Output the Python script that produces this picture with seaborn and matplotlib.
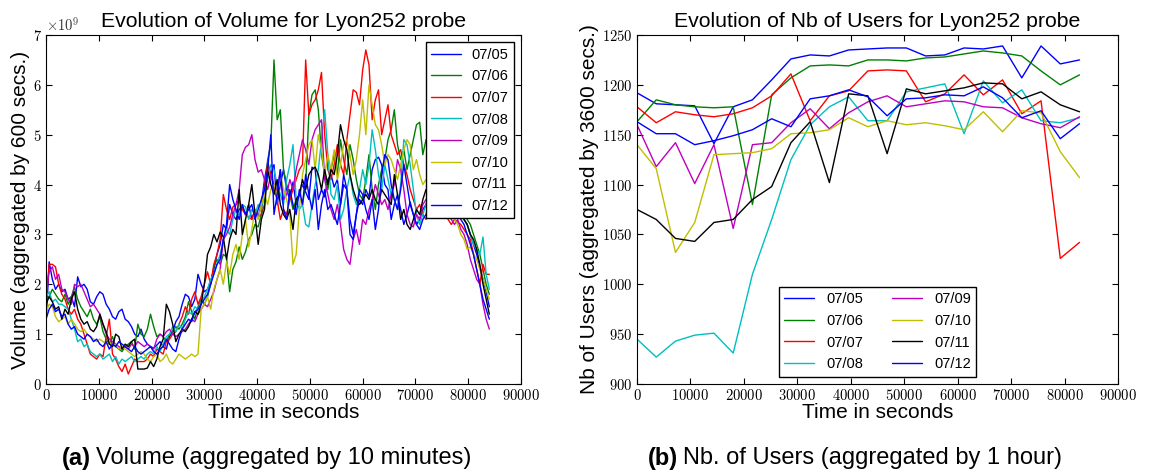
import numpy as np
import pandas as pd
import matplotlib
matplotlib.use("Agg")
import matplotlib.pyplot as plt
import seaborn as sns
from matplotlib.ticker import FuncFormatter

# ---------------- data ----------------
DAYS = ["07/05", "07/06", "07/07", "07/08", "07/09", "07/10", "07/11", "07/12"]
COLORS = ["#0000ff", "#008000", "#ff0000", "#00bfbf", "#bf00bf", "#bfbf00", "#000000", "#0000ff"]

VOLUME_STEP = 600    # seconds between volume samples
USERS_STEP = 3600    # seconds between user samples

# Volume, in units of 1e9, one value every 600 s (0 .. 84000 s)
vol_0705 = [1.2, 2.45, 2.1, 1.9, 2.0, 1.85, 1.9, 1.7, 1.75, 1.55,
            2.15, 1.95, 2.0, 1.9, 1.65, 1.6, 1.75, 1.85, 1.8, 1.6,
            1.5, 1.35, 1.3, 1.45, 1.5, 1.3, 1.25, 1.15, 1.0, 0.95,
            1.1, 0.9, 0.8, 0.75, 0.72, 0.78, 0.85, 0.75, 0.7, 0.95,
            1.05, 1.25, 1.35, 1.6, 1.8, 1.75, 1.55, 1.7, 2.2, 2.0,
            1.85, 1.9, 2.05, 2.3, 2.6, 2.8, 3.2, 3.1, 3.6, 3.4,
            3.3, 3.5, 3.55, 3.4, 3.6, 3.3, 3.5, 3.35, 3.6, 4.1,
            4.45, 4.2, 4.4, 3.6, 4.0, 4.3, 3.9, 3.7, 4.05, 3.6,
            3.8, 4.0, 3.85, 3.7, 4.35, 4.3, 3.7, 3.9, 3.75, 4.1,
            4.2, 3.95, 4.1, 3.6, 4.0, 3.9, 3.3, 3.0, 3.4, 3.7,
            3.6, 3.9, 3.75, 4.3, 4.5, 4.55, 4.4, 4.0, 3.9, 3.3,
            3.6, 3.8, 3.5, 3.2, 3.4, 3.65, 3.4, 3.2, 3.3, 3.5,
            3.6, 3.8, 3.9, 3.7, 3.6, 3.5, 3.8, 3.7, 3.9, 3.6,
            3.5, 3.45, 3.3, 3.2, 3.0, 2.8, 2.6, 2.35, 2.1, 1.85,
            1.55]
vol_0706 = [1.7, 1.75, 1.9, 1.8, 1.7, 1.65, 1.8, 1.6, 1.75, 1.95,
            1.7, 1.55, 1.45, 1.35, 1.5, 1.3, 1.2, 1.35, 1.05, 0.9,
            0.8, 0.95, 0.75, 0.7, 0.65, 0.75, 0.8, 0.85, 0.7, 1.2,
            1.0, 0.95, 1.1, 1.4, 1.15, 0.95, 1.0, 0.95, 0.85, 1.0,
            1.05, 1.15, 1.1, 1.2, 1.35, 1.65, 1.45, 1.3, 1.55, 1.7,
            1.6, 1.75, 2.0, 2.35, 2.5, 2.4, 2.6, 2.55, 1.85, 2.3,
            2.45, 2.75, 2.5, 2.65, 2.9, 3.0, 3.2, 3.15, 3.4, 3.6,
            4.5, 4.8, 6.5, 5.3, 5.5, 4.3, 4.0, 3.8, 3.5, 3.7,
            3.8, 3.6, 4.0, 5.4, 5.8, 5.9, 5.5, 4.6, 4.2, 3.9,
            4.3, 4.6, 4.2, 4.9, 4.5, 4.2, 4.8, 4.5, 4.1, 3.8,
            3.7, 4.1, 4.6, 3.9, 3.5, 4.0, 4.3, 4.5, 4.9, 5.1,
            5.5, 4.8, 4.5, 4.7, 4.3, 4.6, 4.9, 5.2, 5.25, 4.6,
            4.9, 4.7, 4.4, 4.2, 4.5, 4.3, 4.1, 4.0, 3.8, 3.7,
            3.6, 3.5, 3.4, 3.3, 3.2, 3.0, 2.8, 2.6, 2.3, 2.0,
            1.8]
vol_0707 = [1.6, 2.4, 2.4, 2.35, 2.0, 1.8, 1.7, 1.5, 1.4, 1.5,
            1.3, 1.2, 1.0, 0.8, 0.6, 0.55, 0.5, 0.6, 0.55, 0.95,
            1.3, 0.6, 0.5, 0.35, 0.25, 0.4, 0.2, 0.35, 0.5, 0.45,
            0.45, 0.45, 0.5, 0.6, 0.55, 0.7, 0.65, 0.6, 0.85, 0.9,
            1.0, 1.05, 1.2, 1.35, 1.55, 1.4, 1.7, 1.85, 1.6, 1.75,
            2.0, 2.25, 2.0, 2.4, 2.6, 2.9, 3.8, 3.5, 3.3, 3.55,
            3.6, 3.7, 3.5, 3.4, 3.35, 3.3, 3.5, 3.35, 3.4, 4.0,
            4.4, 4.2, 3.9, 3.7, 3.3, 3.5, 3.4, 3.7, 3.9, 4.1,
            4.3, 4.4, 6.5, 5.4, 5.6, 5.7, 5.9, 6.25, 5.0, 4.3,
            4.1, 4.4, 4.8, 4.4, 4.2, 4.9, 5.4, 5.9, 5.85, 5.6,
            6.3, 6.7, 6.4, 5.3, 5.7, 5.9, 5.0, 5.3, 5.6, 5.0,
            4.8, 4.6, 4.7, 4.4, 4.2, 3.9, 3.7, 3.5, 3.6, 3.4,
            3.3, 3.4, 3.5, 3.4, 3.6, 3.5, 3.4, 3.3, 3.2, 3.3,
            3.25, 3.2, 3.1, 3.0, 2.9, 2.6, 2.3, 2.0, 2.4, 2.2,
            2.2]
vol_0708 = [1.75, 1.85, 1.65, 1.7, 1.6, 1.6, 1.55, 1.5, 1.3, 1.1,
            0.85, 0.9, 0.75, 0.8, 0.65, 0.6, 0.55, 0.6, 0.5, 0.55,
            0.6, 0.45, 0.55, 0.4, 0.5, 0.45, 0.5, 0.55, 0.45, 0.5,
            0.55, 0.5, 0.6, 0.65, 0.6, 0.75, 0.65, 0.8, 0.95, 1.0,
            1.15, 1.05, 1.2, 1.1, 1.3, 1.45, 1.4, 1.55, 1.5, 1.65,
            1.75, 1.9, 2.1, 2.2, 2.4, 2.6, 2.9, 3.1, 3.0, 3.3,
            3.5, 3.4, 3.6, 3.55, 3.3, 3.5, 3.4, 3.6, 3.5, 3.9,
            4.1, 4.4, 4.3, 4.0, 3.8, 3.6, 4.1, 4.4, 4.8, 3.7,
            3.5, 3.6, 3.2, 3.15, 3.6, 4.0, 4.3, 4.9, 5.5, 4.6,
            3.8, 3.7, 4.0, 3.3, 3.5, 3.9, 4.2, 3.8, 3.6, 3.9,
            4.3, 4.0, 4.4, 5.1, 4.7, 4.2, 3.9, 4.4, 4.1, 3.8,
            3.7, 3.5, 4.0, 4.9, 4.8, 4.4, 3.9, 3.4, 3.2, 3.4,
            3.6, 3.8, 3.7, 3.5, 3.6, 3.8, 3.7, 3.6, 3.5, 3.6,
            3.5, 3.4, 3.3, 3.2, 3.0, 2.8, 2.7, 2.6, 2.95, 2.2,
            1.9]
vol_0709 = [1.9, 2.25, 2.35, 2.1, 2.2, 1.9, 1.85, 1.7, 1.6, 2.0,
            1.95, 2.0, 1.85, 1.7, 1.55, 1.6, 1.5, 1.4, 1.2, 1.0,
            0.9, 0.85, 0.8, 0.75, 0.7, 0.75, 0.7, 0.8, 0.75, 0.85,
            0.8, 0.75, 0.8, 0.75, 0.7, 0.9, 1.0, 0.95, 1.05, 1.1,
            1.0, 0.95, 1.0, 1.05, 1.1, 1.2, 1.3, 1.25, 1.4, 1.5,
            1.6, 1.55, 1.7, 1.85, 2.1, 2.3, 2.9, 3.0, 3.15, 3.4,
            3.6, 3.9, 4.6, 4.75, 4.8, 5.0, 4.5, 4.25, 4.3, 4.1,
            3.9, 4.2, 4.0, 3.85, 4.3, 3.7, 3.8, 4.1, 3.9, 4.3,
            4.6, 4.9, 4.7, 4.4, 4.9, 5.1, 5.2, 5.3, 4.1, 3.8,
            3.5, 3.3, 3.6, 3.2, 2.7, 2.5, 2.4, 2.9, 3.1, 2.8,
            3.3, 3.2, 3.5, 3.7, 4.0, 3.8, 3.6, 3.7, 3.5, 3.8,
            4.0, 4.5, 4.3, 3.9, 3.4, 3.2, 3.15, 3.4, 3.3, 3.6,
            3.7, 3.8, 3.6, 3.5, 3.7, 3.6, 3.5, 3.4, 3.3, 3.2,
            3.3, 3.1, 3.0, 2.8, 2.5, 2.3, 2.1, 2.0, 1.6, 1.3,
            1.1]
vol_0710 = [1.45, 1.6, 1.55, 1.35, 1.25, 1.3, 1.35, 1.2, 1.3, 1.2,
            1.1, 1.05, 1.1, 1.0, 0.95, 0.9, 0.85, 0.9, 0.85, 0.8,
            0.85, 0.75, 0.8, 0.7, 0.75, 0.7, 0.65, 0.6, 0.55, 0.6,
            0.65, 0.6, 0.5, 0.45, 0.55, 0.6, 0.45, 0.5, 0.6, 0.45,
            0.4, 0.5, 0.6, 0.55, 0.5, 0.55, 0.6, 0.55, 0.6, 1.5,
            1.6, 1.75, 1.5, 1.9, 2.1, 2.3, 2.0, 2.45, 2.2, 2.6,
            2.8, 2.5, 3.0, 3.3, 2.75, 3.1, 3.5, 3.3, 3.6, 3.8,
            3.6, 3.9, 4.0, 3.8, 4.2, 3.9, 3.7, 3.4, 2.4, 2.6,
            3.5, 4.2, 4.5, 4.8, 4.9, 4.3, 5.0, 4.7, 4.2, 4.6,
            4.3, 4.7, 4.1, 4.4, 4.8, 4.9, 4.6, 4.2, 4.5, 5.0,
            5.7, 5.0, 6.0, 5.6, 5.2, 5.1, 4.8, 4.4, 4.6, 4.5,
            4.3, 4.1, 4.4, 4.7, 4.9, 4.8, 4.3, 4.5, 4.2, 4.0,
            4.1, 3.9, 3.8, 3.6, 3.5, 3.7, 3.6, 3.4, 3.5, 3.3,
            3.2, 3.0, 2.9, 2.7, 2.75, 2.6, 2.5, 2.3, 2.1, 1.9,
            1.7]
vol_0711 = [1.6, 1.75, 1.65, 1.5, 1.55, 1.3, 1.5, 1.4, 1.7, 1.85,
            1.5, 1.3, 1.2, 1.25, 1.1, 1.05, 1.15, 1.4, 1.2, 1.05,
            0.8, 0.75, 1.0, 0.95, 0.7, 0.8, 0.75, 0.85, 0.9, 0.3,
            0.3, 0.3, 0.32, 0.45, 0.35, 0.5, 0.75, 0.9, 1.6, 1.45,
            1.2, 0.85, 1.0, 1.1, 1.05, 1.15, 1.3, 1.45, 1.4, 1.6,
            2.0, 2.6, 2.75, 3.0, 2.85, 3.05, 2.95, 2.5, 2.9, 3.1,
            3.0, 3.9, 3.0, 3.3, 3.6, 4.0, 3.4, 2.8, 3.3, 3.5,
            4.3, 4.0, 3.8, 4.1, 3.6, 3.4, 3.3, 3.5, 3.1, 3.7,
            3.8, 4.1, 3.9, 4.2, 4.3, 4.35, 4.2, 3.9, 4.3, 4.0,
            4.3, 4.2, 4.6, 5.2, 4.9, 4.7, 4.2, 3.9, 3.7, 3.6,
            3.7, 3.8, 3.7, 3.9, 3.7, 3.6, 3.9, 3.8, 3.7, 3.6,
            4.2, 3.8, 3.3, 3.5, 3.2, 3.1, 3.3, 3.5, 3.4, 3.7,
            3.9, 3.8, 3.7, 3.6, 3.7, 3.8, 3.6, 3.7, 3.5, 3.6,
            3.6, 3.5, 3.3, 3.2, 3.0, 2.9, 2.7, 2.4, 2.0, 1.7,
            1.4]
vol_0712 = [1.3, 1.5, 1.6, 1.45, 1.5, 1.35, 1.4, 1.2, 1.1, 1.15,
            1.0, 0.95, 0.9, 1.0, 0.95, 0.85, 0.9, 0.8, 0.75, 0.85,
            0.7, 0.8, 0.75, 0.85, 0.8, 0.75, 0.7, 0.65, 0.75, 0.65,
            0.6, 0.65, 0.7, 0.75, 0.65, 0.6, 0.7, 0.75, 0.9, 0.8,
            0.7, 0.65, 0.9, 1.1, 1.2, 1.3, 1.25, 1.45, 1.5, 1.6,
            1.7, 1.8, 2.0, 2.2, 2.4, 2.5, 2.9, 3.2, 4.0, 3.7,
            3.5, 3.3, 3.6, 3.4, 3.5, 3.6, 3.3, 3.5, 3.7, 3.9,
            4.3, 5.0, 3.4, 3.8, 4.3, 3.5, 3.3, 3.9, 3.6, 3.4,
            3.9, 3.6, 4.2, 3.8, 3.5, 3.9, 3.1, 3.6, 3.9, 3.5,
            3.6, 3.4, 3.2, 3.6, 4.2, 3.9, 3.0, 2.9, 3.4, 3.9,
            3.8, 3.5, 3.3, 3.7, 3.1, 3.5, 4.2, 4.6, 4.5, 4.0,
            3.7, 3.5, 3.9, 4.4, 4.0, 3.6, 3.4, 3.2, 3.1, 3.3,
            3.4, 3.6, 3.5, 3.7, 3.6, 3.5, 3.4, 3.5, 3.6, 3.5,
            3.4, 3.3, 3.2, 3.0, 2.8, 2.6, 2.3, 2.0, 1.7, 1.5,
            1.3]

# Number of users, one value every 3600 s (0 .. 82800 s)
users_0705 = [1192, 1181, 1180, 1179, 1141, 1178, 1185, 1205, 1226, 1230, 1229, 1235,
              1236, 1237, 1237, 1229, 1230, 1237, 1236, 1239, 1207, 1239, 1221, 1225]
users_0706 = [1163, 1185, 1180, 1178, 1177, 1178, 1080, 1190, 1207, 1219, 1220, 1219,
              1225, 1225, 1224, 1227, 1228, 1231, 1234, 1232, 1229, 1214, 1200, 1210]
users_0707 = [1178, 1162, 1173, 1170, 1168, 1171, 1177, 1189, 1211, 1164, 1189, 1194,
              1214, 1215, 1214, 1183, 1191, 1210, 1190, 1205, 1171, 1184, 1026, 1042]
users_0708 = [945, 927, 943, 949, 951, 931, 1010, 1065, 1125, 1160, 1178, 1188,
              1164, 1164, 1193, 1197, 1201, 1151, 1204, 1182, 1195, 1164, 1162, 1167]
users_0709 = [1160, 1118, 1142, 1101, 1140, 1056, 1140, 1142, 1162, 1176, 1156, 1172,
              1183, 1189, 1178, 1181, 1184, 1183, 1178, 1177, 1167, 1161, 1157, 1168]
users_0710 = [1140, 1116, 1032, 1062, 1130, 1131, 1132, 1136, 1151, 1152, 1155, 1167,
              1158, 1164, 1160, 1162, 1159, 1155, 1173, 1153, 1174, 1172, 1133, 1107]
users_0711 = [1075, 1065, 1046, 1043, 1062, 1065, 1085, 1098, 1142, 1163, 1102, 1191,
              1189, 1131, 1196, 1191, 1194, 1197, 1202, 1201, 1186, 1193, 1180, 1173]
users_0712 = [1163, 1151, 1151, 1140, 1144, 1149, 1155, 1166, 1158, 1186, 1189, 1195,
              1188, 1169, 1186, 1187, 1190, 1189, 1198, 1187, 1167, 1174, 1146, 1161]

VOL_SERIES = [vol_0705, vol_0706, vol_0707, vol_0708, vol_0709, vol_0710, vol_0711, vol_0712]
USER_SERIES = [users_0705, users_0706, users_0707, users_0708, users_0709, users_0710,
               users_0711, users_0712]

X_TICKS = [0, 10000, 20000, 30000, 40000, 50000, 60000, 70000, 80000, 90000]
VOL_TICKS = [0, 1, 2, 3, 4, 5, 6, 7]
USER_TICKS = [900, 950, 1000, 1050, 1100, 1150, 1200, 1250]


def long_frame(series, step):
    rows = []
    for day, vals in zip(DAYS, series):
        for i, v in enumerate(vals):
            rows.append((day, i * step, v))
    return pd.DataFrame(rows, columns=["day", "t", "v"])


vol_df = long_frame(VOL_SERIES, VOLUME_STEP)
usr_df = long_frame(USER_SERIES, USERS_STEP)

# ---------------- style ----------------
sns.set_style("ticks", {
    "xtick.direction": "in", "ytick.direction": "in",
    "xtick.top": True, "ytick.right": True,
    "axes.edgecolor": "black", "axes.linewidth": 1.0,
    "xtick.color": "black", "ytick.color": "black",
    "text.color": "black", "axes.labelcolor": "black",
})
plt.rcParams["font.family"] = ["Liberation Sans", "DejaVu Sans"]
plt.rcParams["mathtext.fontset"] = "cm"
plt.rcParams["xtick.major.size"] = 4
plt.rcParams["ytick.major.size"] = 4
plt.rcParams["xtick.major.width"] = 0.8
plt.rcParams["ytick.major.width"] = 0.8

W, H = 1151, 474
fig = plt.figure(figsize=(W / 100, H / 100), dpi=100)
axL = fig.add_axes([46 / W, 1 - 384 / H, (521 - 46) / W, (384 - 35) / H])
axR = fig.add_axes([637 / W, 1 - 384 / H, (1118 - 637) / W, (384 - 35) / H])

palette = dict(zip(DAYS, COLORS))
LABEL_FS = 15
TITLE_FS = 15.3
TICK_FS = 10.5

math_fmt = FuncFormatter(lambda v, p: r"$%d$" % round(v))

for ax, df in ((axL, vol_df), (axR, usr_df)):
    sns.lineplot(data=df, x="t", y="v", hue="day", palette=palette,
                 estimator=None, linewidth=1.0, ax=ax)
    ax.set_xlim(0, 90000)
    ax.set_xticks(X_TICKS)
    ax.xaxis.set_major_formatter(math_fmt)
    ax.yaxis.set_major_formatter(math_fmt)
    ax.tick_params(labelsize=TICK_FS, pad=3, colors="black")
    ax.set_xlabel("Time in seconds", fontsize=LABEL_FS, labelpad=0, color="black")
    for s in ax.spines.values():
        s.set_visible(True)
        s.set_color("black")

axL.set_ylim(0, 7)
axL.set_yticks(VOL_TICKS)
axR.set_ylim(900, 1250)
axR.set_yticks(USER_TICKS)

axL.set_title("Evolution of Volume for Lyon252 probe", fontsize=TITLE_FS, pad=6, color="black")
axR.set_title("Evolution of Nb of Users for Lyon252 probe", fontsize=TITLE_FS, pad=6, color="black")
axL.set_ylabel("Volume (aggregated by 600 secs.)", fontsize=LABEL_FS, labelpad=2, color="black")
axR.set_ylabel("Nb of Users (aggregated by 3600 secs.)", fontsize=LABEL_FS, labelpad=2, color="black")

axL.text(0.0, 1.005, r"$\times10^{9}$", transform=axL.transAxes, fontsize=TICK_FS,
         ha="left", va="bottom", color="#333333")

leg_kw = dict(fontsize=10.5, frameon=True, fancybox=False, edgecolor="black",
              framealpha=1.0, handlelength=2.05, labelspacing=0.52, borderpad=0.38,
              handletextpad=0.7, borderaxespad=0.5)
h, l = axL.get_legend_handles_labels()
legL = axL.legend(h, l, loc="upper right", **leg_kw)
h, l = axR.get_legend_handles_labels()
leg_kw.update(handletextpad=0.82)
legR = axR.legend(h, l, loc="lower center", ncol=2, columnspacing=2.0, **leg_kw)
for lg in (legL, legR):
    lg.get_frame().set_linewidth(1.0)
    for t in lg.get_texts():
        t.set_color("black")

# captions
CAP_FS = 17
CAP_Y = 1 - 458 / H
fig.canvas.draw()
r = fig.canvas.get_renderer()
ta = fig.text(62 / W, CAP_Y, "(a)", fontsize=CAP_FS, fontweight="bold", va="center", color="black")
bb = ta.get_window_extent(r)
fig.text((bb.x1 + 5) / W, CAP_Y, "Volume (aggregated by 10 minutes)", fontsize=CAP_FS,
         va="center", color="black")
tb = fig.text(648 / W, CAP_Y, "(b)", fontsize=CAP_FS, fontweight="bold", va="center", color="black")
bb = tb.get_window_extent(r)
fig.text((bb.x1 + 5) / W, CAP_Y, "Nb. of Users (aggregated by 1 hour)", fontsize=CAP_FS,
         va="center", color="black")

fig.savefig("out.png", dpi=100)
